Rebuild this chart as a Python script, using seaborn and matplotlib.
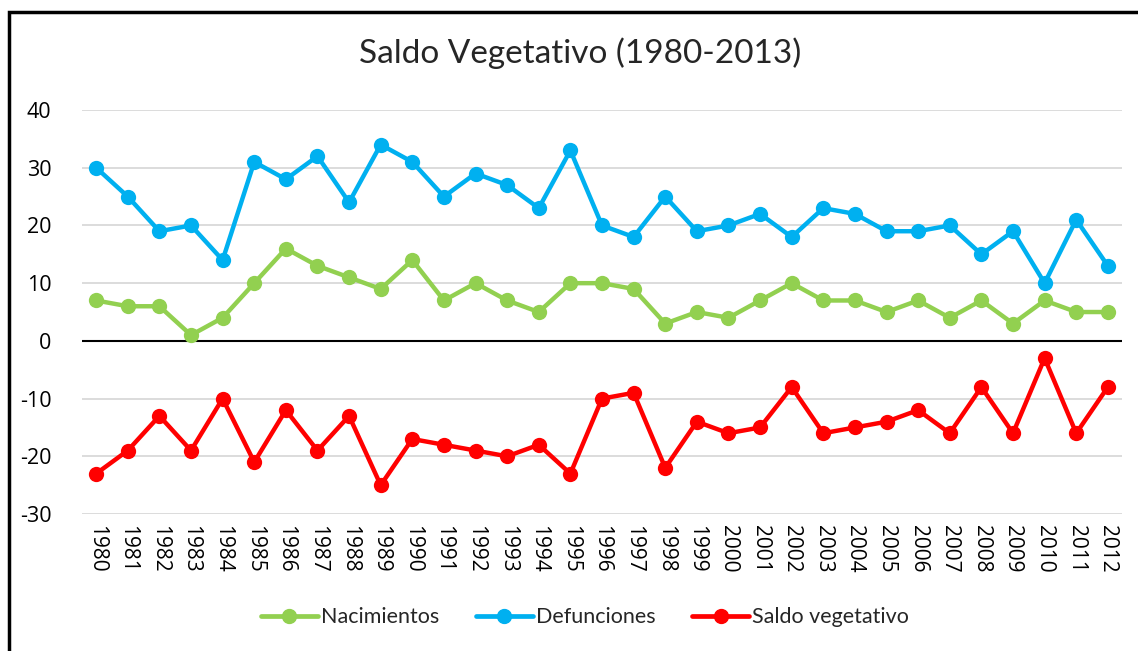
import matplotlib
matplotlib.use("Agg")
import matplotlib.pyplot as plt
import seaborn as sns
import pandas as pd
from matplotlib.lines import Line2D

years = [str(y) for y in range(1980, 2013)]
nacimientos = [7, 6, 6, 1, 4, 10, 16, 13, 11, 9, 14, 7, 10, 7, 5, 10, 10, 9, 3, 5,
               4, 7, 10, 7, 7, 5, 7, 4, 7, 3, 7, 5, 5]
defunciones = [30, 25, 19, 20, 14, 31, 28, 32, 24, 34, 31, 25, 29, 27, 23, 33, 20, 18,
               25, 19, 20, 22, 18, 23, 22, 19, 19, 20, 15, 19, 10, 21, 13]
saldo = [-23, -19, -13, -19, -10, -21, -12, -19, -13, -25, -17, -18, -19, -20, -18,
         -23, -10, -9, -22, -14, -16, -15, -8, -16, -15, -14, -12, -16, -8, -16, -3,
         -16, -8]

series_names = ["Nacimientos", "Defunciones", "Saldo vegetativo"]
colors = ["#92D050", "#00B0F0", "#FF0000"]

df = pd.DataFrame({"year": years * 3,
                   "value": nacimientos + defunciones + saldo,
                   "serie": [s for s in series_names for _ in years]})

sns.set_theme(style="white")
plt.rcParams["font.family"] = ["Open Sans", "DejaVu Sans"]
plt.rcParams["axes.unicode_minus"] = False

fig = plt.figure(figsize=(11.38, 6.51), dpi=100)
ax = fig.add_axes([0.072, 0.2104, 0.914, 0.6206])

sns.lineplot(data=df, x="year", y="value", hue="serie", palette=colors,
             marker="o", markersize=11, markeredgewidth=0, linewidth=3.2,
             sort=False, ax=ax, legend=False)

ax.set_ylim(-30, 40)
ax.set_xlim(-0.45, len(years) - 0.55)
ax.set_yticks(range(-30, 41, 10))
ax.yaxis.grid(True, color="#D9D9D9", linewidth=1.3)
ax.set_axisbelow(True)
ax.axhline(0, color="black", linewidth=1.5, zorder=1.5)
for sp in ax.spines.values():
    sp.set_visible(False)
ax.set_xlabel("")
ax.set_ylabel("")
ax.tick_params(axis="x", labelsize=15, length=0, pad=8)
ax.tick_params(axis="y", labelsize=15.5, length=0, pad=22)
for lbl in ax.get_xticklabels():
    lbl.set_rotation(-90)
    lbl.set_color("black")
for lbl in ax.get_yticklabels():
    lbl.set_color("black")

fig.text(0.51, 0.918, "Saldo Vegetativo (1980-2013)", ha="center", va="center",
         fontsize=24, family=["Lato", "DejaVu Sans"])

handles = [Line2D([0], [0], color=c, linewidth=3.4, marker="o", markersize=10)
           for c in colors]
fig.legend(handles, series_names, loc="center", bbox_to_anchor=(0.514, 0.052),
           ncol=3, frameon=False, handlelength=2.65,
           handletextpad=0.15, columnspacing=1.7,
           prop={"family": ["Lato", "DejaVu Sans"], "size": 15.5})

# chart frame (only the left and top edges are visible in the crop)
fig.add_artist(plt.Rectangle((0.0075, -0.05), 1.1, 1.032, transform=fig.transFigure,
                             fill=False, edgecolor="black", linewidth=2.5))

fig.savefig("out.png", dpi=100)
